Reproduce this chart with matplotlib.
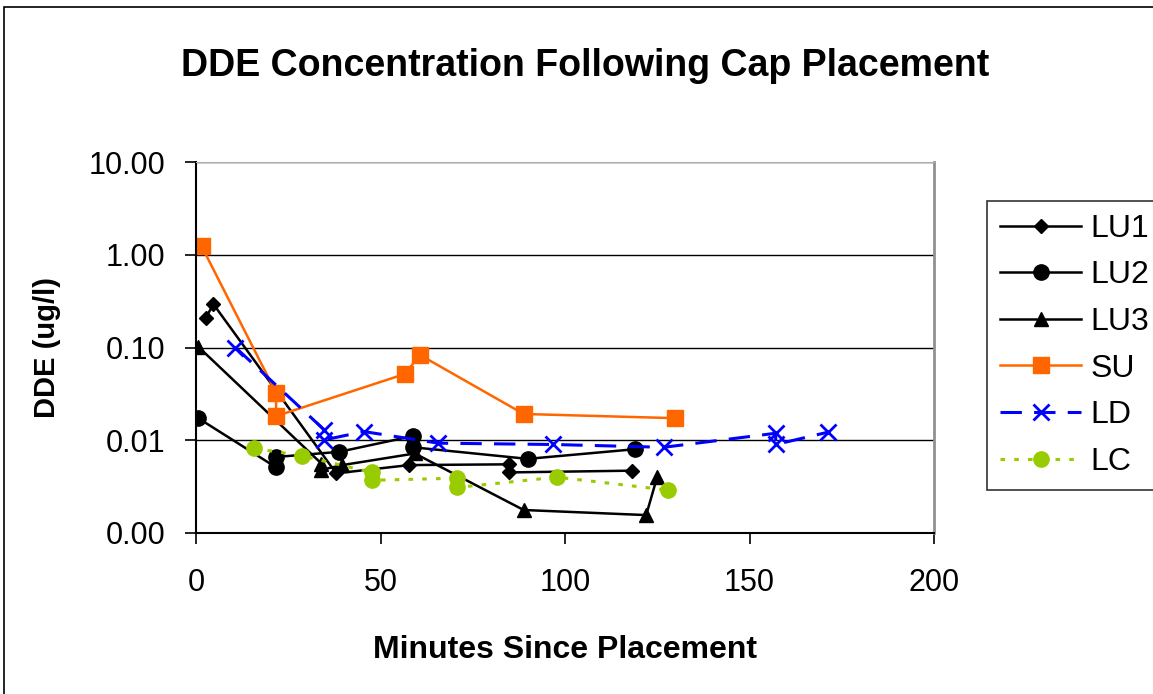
import matplotlib
matplotlib.use("Agg")
import matplotlib.pyplot as plt
from matplotlib.patches import Rectangle
from matplotlib.ticker import FixedLocator, NullLocator, FuncFormatter

plt.rcParams['font.family'] = ['Liberation Sans', 'DejaVu Sans']

# minutes since placement / DDE (ug/l)
lu1_x = [2.6, 4.7, 38.0, 57.8, 84.8, 84.8, 118.1]
lu1_y = [0.206, 0.294, 0.0044, 0.0054, 0.0055, 0.0045, 0.0047]

lu2_x = [0.6, 21.7, 21.7, 38.8, 58.8, 58.8, 89.9, 118.9]
lu2_y = [0.0173, 0.0051, 0.0066, 0.0075, 0.0111, 0.0084, 0.0063, 0.0080]

lu3_x = [0.6, 34.0, 34.0, 39.7, 59.3, 88.8, 122.0, 125.0]
lu3_y = [0.102, 0.0056, 0.0048, 0.0054, 0.0072, 0.00177, 0.00156, 0.00405]

su_x = [1.5, 21.7, 21.7, 56.6, 60.7, 88.8, 129.8]
su_y = [1.24, 0.0326, 0.0182, 0.0518, 0.083, 0.0192, 0.0173]

ld_x = [10.7, 34.8, 34.8, 45.5, 65.7, 96.8, 126.8, 157.1, 157.1, 171.2]
ld_y = [0.100, 0.0129, 0.0101, 0.0124, 0.0093, 0.0090, 0.0084, 0.0119, 0.0090, 0.0122]

lc_x = [15.7, 28.7, 47.6, 47.6, 70.8, 70.8, 97.8, 128.0]
lc_y = [0.0082, 0.0068, 0.0045, 0.0037, 0.0039, 0.0031, 0.0040, 0.0029]

y_ticks = [0.001, 0.01, 0.1, 1, 10]
x_ticks = [0, 50, 100, 150, 200]

fig = plt.figure(figsize=(11.53, 6.94), dpi=100)
ax = fig.add_axes([196 / 1153, 1 - 533 / 694, (934 - 196) / 1153, (533 - 162) / 694])

# outer chart border
fig.patches.append(Rectangle((4 / 1153, -0.01), 1.1, 1 - 7 / 694 + 0.01, transform=fig.transFigure,
                             fill=False, edgecolor='black', linewidth=1.2))

ax.plot(lu1_x, lu1_y, color='black', lw=1.8, marker='D', ms=7, label='LU1')
ax.plot(lu2_x, lu2_y, color='black', lw=1.8, marker='o', ms=11, label='LU2')
ax.plot(lu3_x, lu3_y, color='black', lw=1.8, marker='^', ms=10, label='LU3')
ax.plot(su_x, su_y, color='#FF6600', lw=1.8, marker='s', ms=11, label='SU')
ax.plot(ld_x, ld_y, color='#0000FF', lw=2.2, ls=(0, (7, 4)), marker='x', ms=11, mew=2, label='LD')
ax.plot(lc_x, lc_y, color='#99CC00', lw=2.2, ls=(0, (1.5, 3)), marker='o', ms=11, label='LC')

ax.set_yscale('log')
ax.set_ylim(0.001, 10)
ax.set_xlim(0, 200)
ax.yaxis.set_major_locator(FixedLocator(y_ticks))
ax.yaxis.set_minor_locator(NullLocator())
ax.yaxis.set_major_formatter(FuncFormatter(lambda v, p: '%.2f' % v))
ax.set_xticks(x_ticks)

ax.grid(axis='y', color='black', lw=1.0)
ax.set_axisbelow(True)
ax.tick_params(axis='both', direction='out', length=8, width=1.2, labelsize=22, pad=14)
ax.tick_params(axis='x', pad=17)
ax.spines['left'].set_color('black')
ax.spines['bottom'].set_color('black')
ax.spines['left'].set_linewidth(1.5)
ax.spines['bottom'].set_linewidth(1.5)
ax.spines['top'].set_color('#B0B0B0')
ax.spines['right'].set_color('#909090')
ax.spines['right'].set_linewidth(2)

ax.set_xlabel('Minutes Since Placement', fontsize=23, fontweight='bold', labelpad=27)
ax.set_ylabel('DDE (ug/l)', fontsize=21, fontweight='bold', labelpad=20)
fig.text(585 / 1153, 1 - 66 / 694, 'DDE Concentration Following Cap Placement',
         fontsize=27, fontweight='bold', ha='center', va='center')

leg = ax.legend(loc='upper left', bbox_to_anchor=(987 / 1153, 1 - 201 / 694),
                bbox_transform=fig.transFigure, borderaxespad=0, fontsize=23,
                frameon=True, fancybox=False, edgecolor='black', handlelength=2.55,
                labelspacing=0.52, handletextpad=0.3, borderpad=0.4)
leg.get_frame().set_linewidth(1.2)

fig.savefig('out.png', dpi=100)
